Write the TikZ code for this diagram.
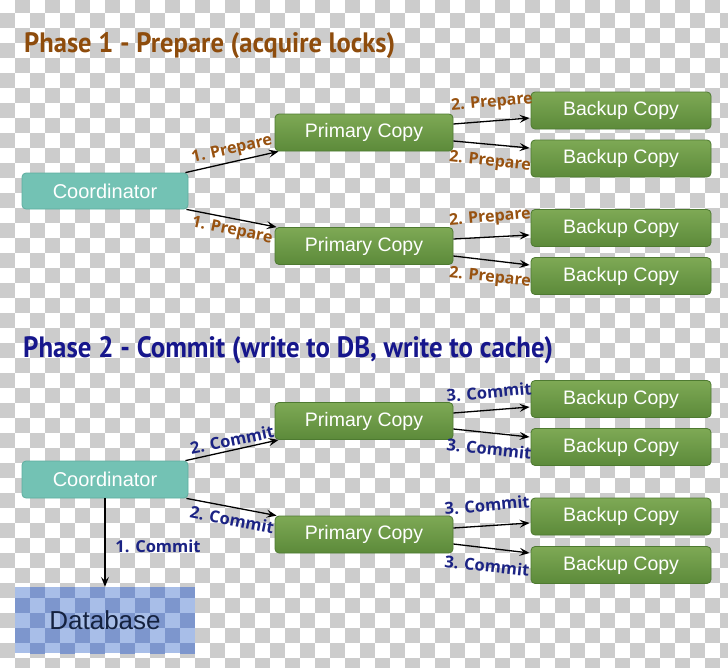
\documentclass[tikz,border=0pt]{standalone}
\usepackage{fontspec}
\setmainfont{Liberation Sans}
\newfontfamily\lblfont{Open Sans}
\newfontfamily\ttlfont{PT Sans}
\usetikzlibrary{arrows.meta}
\definecolor{chkgrey}{HTML}{CCCCCC}
\definecolor{tealfill}{HTML}{73C2B4}
\definecolor{tealline}{HTML}{5FAE9F}
\definecolor{greentop}{HTML}{7EA955}
\definecolor{greenbot}{HTML}{5C8A3A}
\definecolor{greenline}{HTML}{4E7A31}
\definecolor{dblight}{HTML}{A8BEE8}
\definecolor{dbdark}{HTML}{7D96CD}
\definecolor{dbtext}{HTML}{15223F}
\definecolor{brownlbl}{HTML}{985210}
\definecolor{browntitle}{HTML}{8E4C0C}
\definecolor{navylbl}{HTML}{1B2384}
\definecolor{navytitle}{HTML}{16168C}
\newcommand{\mycheckers}[5]{%
  \foreach \c in {#2,...,#3}{%
    \foreach \r in {#4,...,#5}{%
      \pgfmathtruncatemacro\chkpar{mod(\c+\r,2)}%
      \ifnum\chkpar=1 \fill[#1] (15*\c,15*\r-2) rectangle ++(15,15);\fi
    }}}
\tikzset{
  coordbox/.style={draw=tealline, line width=0.8pt, fill=tealfill, rounded corners=4pt,
    text=white, font=\fontsize{20}{24}\selectfont, minimum width=166pt,
    minimum height=36pt, inner sep=0pt},
  greenbox/.style={draw=greenline, line width=0.8pt, top color=greentop, bottom color=greenbot,
    rounded corners=4pt, text=white, font=\fontsize{19.5}{23}\selectfont,
    minimum height=37pt, inner sep=0pt},
  primbox/.style={greenbox, minimum width=178pt},
  backbox/.style={greenbox, minimum width=180pt},
  conn/.style={draw=black, line width=1.3pt, -{Stealth[length=10pt,width=8pt,inset=4pt]}},
  preplbl/.style={text=brownlbl, font=\lblfont\bfseries\fontsize{16}{18}\selectfont, inner sep=0pt},
  commlbl/.style={text=navylbl, font=\lblfont\bfseries\fontsize{16.5}{18}\selectfont, inner sep=0pt},
}
\begin{document}
\begin{tikzpicture}[x=1pt,y=-1pt]
\useasboundingbox (0,0) rectangle (728,667);
\begin{scope}
\clip (0,0) rectangle (728,667);
\fill[white] (0,0) rectangle (728,667);
\mycheckers{chkgrey}{0}{48}{0}{44}
\end{scope}

% titles
\node[anchor=base west, text=browntitle, inner sep=0pt] (t1) at (24,52)
  {\resizebox{371pt}{20pt}{\ttlfont\bfseries\fontsize{24}{28}\selectfont Phase 1 - Prepare (acquire locks)}};
\node[anchor=base west, text=navytitle, inner sep=0pt] (t2) at (23,357)
  {\resizebox{530pt}{21pt}{\ttlfont\bfseries\fontsize{26}{30}\selectfont Phase 2 - Commit (write to DB, write to cache)}};

% phase 1 nodes
\node[coordbox] (c1) at (105,191) {Coordinator};
\node[primbox] (p1a) at (364,132.5) {Primary Copy};
\node[primbox] (p1b) at (364,246) {Primary Copy};
\node[backbox] (b1a) at (621,110.5) {Backup Copy};
\node[backbox] (b1b) at (621,158.5) {Backup Copy};
\node[backbox] (b1c) at (621,228) {Backup Copy};
\node[backbox] (b1d) at (621,276) {Backup Copy};

% phase 2 nodes
\node[coordbox, minimum height=37pt] (c2) at (105,479.5) {Coordinator};
\node[primbox] (p2a) at (364,421) {Primary Copy};
\node[primbox] (p2b) at (364,534.5) {Primary Copy};
\node[backbox] (b2a) at (621,399) {Backup Copy};
\node[backbox] (b2b) at (621,447) {Backup Copy};
\node[backbox] (b2c) at (621,516.5) {Backup Copy};
\node[backbox] (b2d) at (621,565) {Backup Copy};

% database
\begin{scope}
\clip (15,587) rectangle (195,653);
\fill[dblight] (15,587) rectangle (195,653);
\mycheckers{dbdark}{1}{12}{39}{44}
\end{scope}
\node[minimum width=180pt, minimum height=66pt, inner sep=0pt, text=dbtext,
  font=\fontsize{26}{30}\selectfont] (db) at (105,620) {Database};

% phase 1 connectors
\draw[conn] ([xshift=-3pt]c1.north east) -- ([xshift=4pt]p1a.south west);
\draw[conn] ([xshift=-2pt]c1.south east) -- ([xshift=2pt]p1b.north west);
\draw[conn] ([yshift=8.5pt]p1a.east) -- ([yshift=-7.5pt,xshift=-1pt]b1a.west);
\draw[conn] ([yshift=-8.5pt]p1a.east) -- ([yshift=10.5pt,xshift=-1pt]b1b.west);
\draw[conn] ([yshift=7pt]p1b.east) -- ([yshift=-7pt,xshift=-1pt]b1c.west);
\draw[conn] ([yshift=-10pt]p1b.east) -- ([yshift=11pt,xshift=-1pt]b1d.west);

% phase 2 connectors
\draw[conn] ([xshift=-3pt]c2.north east) -- ([xshift=4pt]p2a.south west);
\draw[conn] ([xshift=-2pt]c2.south east) -- ([xshift=2pt]p2b.north west);
\draw[conn] ([yshift=8pt]p2a.east) -- ([yshift=-8pt,xshift=-1pt]b2a.west);
\draw[conn] ([yshift=-8pt]p2a.east) -- ([yshift=10pt,xshift=-1pt]b2b.west);
\draw[conn] ([yshift=6.5pt]p2b.east) -- ([yshift=-6.5pt,xshift=-1pt]b2c.west);
\draw[conn] ([yshift=-9.5pt]p2b.east) -- ([yshift=12pt,xshift=-1pt]b2d.west);
\draw[conn] (c2.south) -- (db.north);

% labels phase 1
\node[preplbl, rotate=13] (l1) at (232,150) {1. Prepare};
\node[preplbl, rotate=-12] (l2) at (232,231) {1. Prepare};
\node[preplbl, rotate=5] (l3) at (492,103) {2. Prepare};
\node[preplbl, rotate=-6] (l4) at (490,162) {2. Prepare};
\node[preplbl, rotate=5] (l5) at (490,218) {2. Prepare};
\node[preplbl, rotate=-6] (l6) at (490,278) {2. Prepare};

% labels phase 2
\node[commlbl, rotate=12] (m1) at (232,440) {2. Commit};
\node[commlbl, rotate=-11] (m2) at (232,520) {2. Commit};
\node[commlbl, rotate=5] (m3) at (489,392) {3. Commit};
\node[commlbl, rotate=-6] (m4) at (489,449) {3. Commit};
\node[commlbl, rotate=5] (m5) at (487,505) {3. Commit};
\node[commlbl, rotate=-6] (m6) at (487,566) {3. Commit};
\node[commlbl] (m0) at (158,546) {1. Commit};
\end{tikzpicture}
\end{document}
